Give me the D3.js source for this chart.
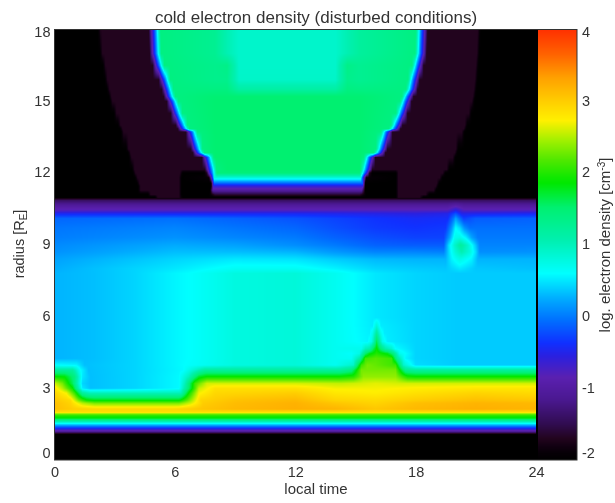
<!DOCTYPE html>
<html>
<head>
<meta charset="utf-8">
<script src="https://cdn.jsdelivr.net/npm/d3@7"></script>
<style>
  html, body { margin: 0; background: #fff; }
  #wrap { position: relative; width: 615px; height: 503px; overflow: hidden; }
  canvas, svg { position: absolute; left: 0; top: 0; }
  text { font-family: "Liberation Sans", sans-serif; fill: #333; }
</style>
</head>
<body>
<div id="wrap"></div>
<script>
const timeTicks = [0, 6, 12, 18, 24]
const radiusTicks = [0, 3, 6, 9, 12, 15, 18]
const densityTicks = [-2, -1, 0, 1, 2, 3, 4]

// colour bar, log density -> colour
const barValues = [-2, -1.9, -1.82, -1.7, -1.5, -1.16, -0.85, -0.55, -0.37, -0.05, 0.23, 0.6, 1.06, 1.52, 1.86, 1.94, 2.18, 2.45, 2.73, 2.98, 3.33, 3.67, 4]
const barColours = ['#000000', '#060006', '#100010', '#22041e', '#300c50', '#4a1890', '#5a20b0', '#2a20e0', '#1030ff', '#0070ff', '#00a8ff', '#00ffff', '#00f0b0', '#00f070', '#00e800', '#10e800', '#50e800', '#a0f000', '#fff000', '#ffd000', '#ffa000', '#ff6000', '#ff3000']

// radius rows below the magnetopause, each profile is local time, log density pairs
const lowerRadii = [0, 1.06, 1.12, 1.2, 1.33, 1.46, 1.6, 1.74, 1.88, 1.93, 1.99, 2.13, 2.38, 2.5, 2.8, 3, 3.2, 3.48, 3.76, 3.97, 4.25, 4.45, 4.65, 4.95, 5.3, 5.6, 5.95, 7.8, 8, 8.4, 8.7, 8.98, 9.3, 9.7, 10.1, 10.3, 10.45, 10.65, 10.85, 10.95]
const lowerProfiles = [
  [0, -2, 24, -2],
  [0, -2, 24, -2],
  [0, -1.6, 24, -1.6],
  [0, -1, 24, -1],
  [0, -0.4, 24, -0.4],
  [0, 0.25, 24, 0.25],
  [0, 1, 24, 1],
  [0, 1.75, 24, 1.75],
  [0, 2.1, 24, 2.1],
  [0, 2.35, 24, 2.35],
  [0, 2.85, 24, 2.85],
  [0, 3.1, 1, 3, 2, 2.95, 6, 2.95, 7.2, 3.05, 9, 3.15, 12, 3.22, 14, 3.18, 16, 3.05, 18, 3.15, 21, 3.22, 24, 3.18],
  [0, 3.1, 0.8, 2.95, 1.4, 2.5, 2, 2.3, 6.2, 2.3, 6.8, 2.6, 7.4, 3, 9, 3.12, 12, 3.2, 14, 3.05, 16, 2.95, 18, 3.1, 21, 3.18, 24, 3.15],
  [0, 3.05, 0.8, 2.9, 1.2, 2.3, 1.6, 1.9, 2, 1.8, 6.2, 1.8, 6.7, 2.3, 7.3, 2.95, 9, 3.08, 12, 3.15, 14, 2.95, 16, 2.9, 18, 3, 21, 3.1, 24, 3.05],
  [0, 2.95, 0.6, 2.7, 1, 2.1, 1.4, 1.2, 1.8, 1, 6.3, 1, 6.7, 1.9, 7.2, 2.7, 8, 2.92, 12, 3, 14, 2.8, 16, 2.75, 18, 2.85, 21, 2.95, 24, 2.9],
  [0, 2.85, 0.4, 2.5, 0.9, 1.9, 1.4, 0.5, 1.8, 0.33, 4, 0.42, 6.2, 0.58, 6.6, 1.3, 7.2, 2.55, 8, 2.85, 12, 2.85, 14, 2.7, 16, 2.7, 18, 2.75, 21, 2.8, 24, 2.8],
  [0, 2.6, 0.4, 2.3, 0.9, 1.6, 1.4, 0.42, 1.8, 0.33, 4, 0.42, 6.2, 0.58, 6.5, 1, 7, 2.1, 7.6, 2.6, 12, 2.6, 14.3, 2.55, 15.2, 2.6, 16, 2.65, 17.3, 2.6, 18, 2.6, 24, 2.6],
  [0, 1.9, 0.5, 1.85, 1, 1.4, 1.4, 0.5, 1.8, 0.33, 4, 0.42, 6.2, 0.58, 6.7, 1, 7.2, 1.75, 7.6, 1.9, 14.2, 1.9, 14.9, 2, 15.4, 2.4, 17, 2.4, 17.6, 1.95, 18, 1.9, 24, 1.9],
  [0, 1.2, 0.9, 1.2, 1.3, 0.6, 1.7, 0.33, 4, 0.42, 6.4, 0.58, 7, 0.9, 7.5, 1.2, 14.2, 1.2, 14.8, 1.4, 15.3, 2.3, 17, 2.3, 17.5, 1.3, 18, 1.2, 24, 1.2],
  [0, 0.6, 1.1, 0.55, 1.5, 0.33, 4, 0.42, 6, 0.56, 7, 0.64, 9, 0.78, 12, 0.82, 14, 0.68, 14.9, 0.9, 15.3, 2.1, 15.6, 2.3, 17, 2.1, 17.4, 0.9, 18, 0.45, 20, 0.38, 24, 0.38],
  [0, 0.28, 2, 0.33, 4, 0.42, 6, 0.56, 7, 0.62, 9, 0.78, 12, 0.82, 14, 0.68, 14.8, 0.66, 15.2, 1.1, 15.5, 2.1, 16, 2.2, 16.8, 2.1, 17.1, 1.2, 17.5, 0.55, 18, 0.42, 20, 0.38, 24, 0.38],
  [0, 0.28, 2, 0.33, 4, 0.42, 6, 0.56, 7, 0.62, 9, 0.78, 12, 0.82, 14, 0.68, 14.8, 0.62, 15.2, 0.75, 15.5, 1.5, 15.7, 1.8, 16.06, 2, 16.6, 1.8, 16.9, 1.4, 17.2, 0.7, 18, 0.42, 20, 0.38, 24, 0.38],
  [0, 0.28, 2, 0.33, 4, 0.42, 6, 0.56, 7, 0.62, 9, 0.78, 12, 0.82, 14, 0.68, 15.3, 0.7, 15.5, 1, 15.7, 1.1, 15.9, 1.6, 16.06, 1.9, 16.25, 1.5, 16.5, 1.1, 16.8, 0.9, 17, 0.6, 18, 0.42, 20, 0.38, 24, 0.38],
  [0, 0.28, 2, 0.33, 4, 0.42, 6, 0.56, 7, 0.62, 9, 0.78, 12, 0.82, 14, 0.68, 15.6, 0.56, 15.8, 0.72, 15.9, 1, 16.06, 1.65, 16.25, 1, 16.35, 0.72, 16.6, 0.52, 18, 0.42, 20, 0.38, 24, 0.38],
  [0, 0.28, 2, 0.33, 4, 0.42, 6, 0.56, 7, 0.62, 9, 0.78, 12, 0.82, 14, 0.68, 15.7, 0.54, 15.85, 0.7, 16.06, 1.2, 16.27, 0.7, 16.45, 0.52, 18, 0.42, 20, 0.38, 24, 0.38],
  [0, 0.28, 2, 0.33, 4, 0.42, 6, 0.56, 7, 0.62, 9, 0.78, 12, 0.82, 14, 0.68, 15.85, 0.52, 16.06, 0.85, 16.27, 0.52, 18, 0.42, 20, 0.38, 24, 0.38],
  [0, 0.28, 2, 0.33, 4, 0.42, 6, 0.56, 7, 0.62, 9, 0.78, 12, 0.82, 14, 0.68, 16, 0.5, 18, 0.42, 20, 0.38, 24, 0.38],
  [0, 0.28, 2, 0.33, 4, 0.42, 6, 0.56, 7, 0.62, 9, 0.78, 12, 0.82, 14, 0.68, 16, 0.5, 18, 0.42, 20, 0.38, 24, 0.38],
  [0, 0.25, 6, 0.5, 9, 0.66, 12, 0.66, 14, 0.55, 16, 0.42, 18, 0.38, 19.5, 0.36, 20.2, 0.5, 21, 0.36, 24, 0.33],
  [0, 0.2, 6, 0.42, 9, 0.5, 12, 0.48, 14, 0.38, 16, 0.3, 18, 0.28, 19.5, 0.28, 19.8, 0.55, 20.2, 0.75, 20.8, 0.55, 21.1, 0.28, 24, 0.28],
  [0, 0.12, 6, 0.32, 9, 0.32, 12, 0.28, 14, 0.15, 16, 0.05, 18, 0.05, 19.4, 0.03, 19.7, 0.5, 20, 0.85, 20.3, 1.05, 20.7, 0.8, 21, 0.45, 21.2, 0.1, 24, 0.12],
  [0, 0.08, 6, 0.24, 9, 0.2, 12, 0.1, 14, 0, 16, -0.12, 18, -0.15, 19.4, -0.15, 19.65, 0.45, 19.95, 0.9, 20.25, 1.2, 20.6, 0.9, 21, 0.35, 21.2, 0.05, 24, 0.05],
  [0, 0.02, 6, 0.12, 12, 0, 14, -0.12, 16, -0.22, 18, -0.28, 19.4, -0.28, 19.7, 0.2, 19.95, 0.7, 20.2, 0.75, 20.5, 0.55, 20.8, 0.2, 21.1, 0, 24, 0],
  [0, -0.02, 6, 0.05, 12, -0.1, 14, -0.22, 16, -0.32, 18, -0.36, 19.5, -0.33, 19.8, 0.15, 20, 0.6, 20.2, 0.45, 20.45, 0.1, 20.7, -0.05, 24, -0.05],
  [0, -0.1, 6, -0.05, 12, -0.2, 16, -0.36, 18, -0.42, 19.6, -0.4, 19.9, 0, 20, 0.2, 20.15, 0, 20.4, -0.3, 21, -0.15, 24, -0.12],
  [0, -0.45, 12, -0.45, 18, -0.55, 19.6, -0.5, 20, -0.2, 20.3, -0.5, 24, -0.45],
  [0, -0.8, 19.6, -0.8, 20, -0.55, 20.4, -0.8, 24, -0.8],
  [0, -1.05, 19.6, -1.05, 20, -0.95, 20.4, -1.05, 24, -1.05],
  [0, -1.4, 24, -1.4],
  [0, -1.85, 24, -1.85]
]

// rows around the bottom of the dayside region, with the dark pockets
const pocketRadii = [10.98, 11.1, 11.28, 11.45, 11.57, 11.8, 12]
const pocketProfiles = [
  [0, -2, 5, -2, 5.15, -1.7, 6.2, -1.7, 6.4, -2, 17, -2, 17.15, -1.7, 18.2, -1.7, 18.4, -2, 24, -2],
  [0, -2, 4.65, -2, 4.8, -1.7, 6.2, -1.7, 6.35, -2, 7.7, -2, 8, -1.6, 15.2, -1.6, 15.55, -2, 17, -2, 17.15, -1.7, 18.5, -1.7, 18.7, -2, 24, -2],
  [0, -2, 4.15, -2, 4.3, -1.7, 6.2, -1.7, 6.35, -2, 7.75, -2, 7.9, -1, 15.3, -1, 15.5, -2, 17, -2, 17.15, -1.7, 18.9, -1.7, 19.05, -2, 24, -2],
  [0, -2, 4.15, -2, 4.3, -1.7, 6.2, -1.7, 6.35, -2, 7.8, -2, 7.93, -0.6, 15.35, -0.6, 15.5, -2, 17, -2, 17.15, -1.7, 19, -1.7, 19.15, -2, 24, -2],
  [0, -2, 4.1, -2, 4.25, -1.7, 6.2, -1.7, 6.35, -2, 7.8, -2, 7.95, -0.1, 15.35, -0.1, 15.5, -2, 17, -2, 17.15, -1.7, 19.05, -1.7, 19.2, -2, 24, -2],
  [0, -2, 4, -2, 4.15, -1.7, 6.2, -1.7, 6.35, -2, 7.7, -1.9, 7.85, -0.6, 7.97, 0.8, 15.25, 0.8, 15.4, -0.6, 15.55, -1.9, 17, -2, 17.15, -1.7, 19.2, -1.7, 19.35, -2, 24, -2],
  [0, -2, 3.9, -2, 4.05, -1.7, 6.25, -1.7, 6.4, -2, 7.45, -2, 7.6, -1.7, 7.72, -0.7, 7.84, -0.1, 7.96, 0.7, 8.1, 1.45, 15.2, 1.45, 15.35, 0.7, 15.47, -0.1, 15.59, -0.7, 15.7, -1.7, 15.85, -2, 17, -2, 17.15, -1.7, 19.35, -1.7, 19.5, -2, 24, -2]
]

// dayside region above that, read as edge positions (local time) per radius
const upperRadii = [12.15, 12.65, 12.85, 13, 13.72, 13.85, 14, 14.5, 15, 15.2, 15.5, 15.9, 16.5, 17, 18.1]
const leftEdge = [7.8, 7.65, 7.2, 7.1, 6.85, 6.45, 6.35, 6.1, 5.9, 5.75, 5.65, 5.5, 5.2, 5.05, 5]
const rightEdge = [15.55, 15.7, 16.2, 16.3, 16.55, 16.95, 17.05, 17.3, 17.5, 17.6, 17.8, 17.9, 18.1, 18.25, 18.3]
const leftHalo = [4, 3.85, 3.8, 3.7, 3.45, 3.4, 3.3, 3.1, 2.9, 2.85, 2.75, 2.65, 2.55, 2.4, 2.3]
const rightHalo = [19.55, 19.85, 19.95, 20, 20.3, 20.4, 20.45, 20.65, 20.8, 20.85, 20.9, 20.95, 21, 21.05, 21.1]
const edgeOffsets = [-0.3, -0.15, 0, 0.14, 0.28]
const edgeValues = [-1.7, -0.8, -0.1, 0.7, 1.4]
const insideTimes = [5, 8, 8.6, 9.2, 14, 14.6, 15.2, 18.5]
const insideValues = [
  [1.5, 1.52, 1.52, 1.52, 1.52, 1.52, 1.52, 1.5],
  [1.5, 1.52, 1.52, 1.52, 1.52, 1.52, 1.52, 1.5],
  [1.5, 1.52, 1.52, 1.52, 1.52, 1.52, 1.52, 1.5],
  [1.5, 1.52, 1.52, 1.52, 1.52, 1.52, 1.52, 1.5],
  [1.5, 1.52, 1.52, 1.52, 1.52, 1.52, 1.52, 1.5],
  [1.5, 1.52, 1.52, 1.52, 1.52, 1.52, 1.52, 1.5],
  [1.5, 1.52, 1.52, 1.52, 1.52, 1.52, 1.52, 1.5],
  [1.5, 1.52, 1.52, 1.52, 1.52, 1.52, 1.52, 1.5],
  [1.5, 1.52, 1.52, 1.52, 1.52, 1.52, 1.52, 1.5],
  [1.45, 1.5, 1.5, 1.5, 1.5, 1.5, 1.5, 1.45],
  [1.38, 1.4, 1.4, 1.15, 1.15, 1.4, 1.38, 1.35],
  [1.32, 1.32, 1.32, 0.92, 0.92, 1.32, 1.28, 1.28],
  [1.32, 1.32, 1.35, 0.9, 0.9, 1.35, 1.28, 1.28],
  [1.32, 1.28, 1.05, 0.9, 0.9, 1.05, 1.2, 1.28],
  [1.32, 1.28, 1.05, 0.9, 0.9, 1.05, 1.2, 1.28]
]

// build the upper profiles from the edge arrays
const upperProfiles = upperRadii.map((r, i) => {
  const p = [0, -2, leftHalo[i] - 0.15, -2, leftHalo[i], -1.7]
  edgeOffsets.forEach((o, j) => p.push(leftEdge[i] + o, edgeValues[j]))
  insideTimes.forEach((t, j) => {
    if (t > leftEdge[i] + 0.33 && t < rightEdge[i] - 0.33) p.push(t, insideValues[i][j])
  })
  edgeOffsets.slice().reverse().forEach((o, j) => p.push(rightEdge[i] - o, edgeValues[4 - j]))
  p.push(rightHalo[i], -1.7, rightHalo[i] + 0.15, -2, 24, -2)
  return p
})

const radii = lowerRadii.concat(pocketRadii, upperRadii)
const profiles = lowerProfiles.concat(pocketProfiles, upperProfiles)

const width = 615
const height = 503
const plotLeft = 54.5
const plotRight = 536
const barLeft = 538
const barRight = 577
const plotTop = 29.5
const plotBottom = 460

const xScale = d3.scaleLinear().domain([0, 24]).range([plotLeft, plotRight])
const yScale = d3.scaleLinear().domain([0, 18]).range([plotBottom, plotTop])
const barScale = d3.scaleLinear().domain([-2, 4]).range([plotBottom, plotTop])
const colourScale = d3.scaleLinear().domain(barValues).range(barColours).interpolate(d3.interpolateRgb).clamp(true)

const wrap = d3.select('#wrap')

const canvas = wrap.append('canvas').attr('width', width).attr('height', height)
const ctx = canvas.node().getContext('2d')
ctx.fillStyle = '#000'
ctx.fillRect(plotLeft, plotTop, barRight - plotLeft, plotBottom - plotTop)

// one scale per radius row, then blend rows in y (interpolated shading like the original)
const rowScales = profiles.map((p) => {
  const ts = p.filter((d, i) => i % 2 === 0)
  const vs = p.filter((d, i) => i % 2 === 1)
  return d3.scaleLinear().domain(ts).range(vs).clamp(true)
})

const x0 = Math.floor(plotLeft)
const x1 = Math.ceil(plotRight)
const y0 = Math.floor(plotTop)
const y1 = Math.ceil(plotBottom)
const image = ctx.createImageData(x1 - x0, y1 - y0)
const rowCache = rowScales.map((s) => d3.range(x0, x1).map((px) => s(xScale.invert(px + 0.5))))
for (let py = y0; py < y1; py++) {
  const r = yScale.invert(py + 0.5)
  const hi = Math.min(Math.max(d3.bisectRight(radii, r), 1), radii.length - 1)
  const f = Math.min(Math.max((r - radii[hi - 1]) / (radii[hi] - radii[hi - 1]), 0), 1)
  for (let px = x0; px < x1; px++) {
    const v = rowCache[hi - 1][px - x0] * (1 - f) + rowCache[hi][px - x0] * f
    const c = d3.rgb(colourScale(v))
    const k = ((py - y0) * (x1 - x0) + (px - x0)) * 4
    image.data[k] = c.r
    image.data[k + 1] = c.g
    image.data[k + 2] = c.b
    image.data[k + 3] = 255
  }
}
ctx.putImageData(image, x0, y0)

// colour bar, one pixel row at a time so nothing bleeds through from the black under it
for (let py = y0; py < y1; py++) {
  ctx.fillStyle = colourScale(barScale.invert(py + 0.5))
  ctx.fillRect(barLeft, py, barRight - barLeft, 1)
}

const svg = wrap.append('svg').attr('width', width).attr('height', height)

// frame
svg.append('rect')
  .attr('x', plotLeft)
  .attr('y', plotTop)
  .attr('width', barRight - plotLeft)
  .attr('height', plotBottom - plotTop)
  .attr('fill', 'none')
  .attr('stroke', '#333')
  .attr('stroke-width', 1)

function cleanAxis(g) {
  g.select('.domain').remove()
  g.selectAll('line').remove()
  g.selectAll('text').attr('font-size', 14.5).style('fill', '#333').style('font-family', '"Liberation Sans", sans-serif')
}

svg.append('g')
  .attr('transform', `translate(0, ${plotBottom})`)
  .call(d3.axisBottom(xScale).tickValues(timeTicks).tickSize(0).tickPadding(7).tickFormat(String))
  .call(cleanAxis)

const yAxis = svg.append('g')
  .attr('transform', `translate(${plotLeft}, 0)`)
  .call(d3.axisLeft(yScale).tickValues(radiusTicks).tickSize(0).tickPadding(4).tickFormat(String))
  .call(cleanAxis)

const barAxis = svg.append('g')
  .attr('transform', `translate(${barRight}, 0)`)
  .call(d3.axisRight(barScale).tickValues(densityTicks).tickSize(0).tickPadding(5).tickFormat(String))
  .call(cleanAxis)

// end labels sit inside the axis range
const shiftEnds = (g, low, high) => {
  g.selectAll('.tick text').attr('dy', null).attr('dominant-baseline', 'middle')
    .attr('y', (d) => (d === low ? -6 : d === high ? 3 : 0))
}
shiftEnds(yAxis, 0, 18)
shiftEnds(barAxis, -2, 4)

svg.append('text')
  .attr('x', 316)
  .attr('y', 23)
  .attr('text-anchor', 'middle')
  .attr('font-size', 17)
  .text('cold electron density (disturbed conditions)')

svg.append('text')
  .attr('x', 316)
  .attr('y', 494)
  .attr('text-anchor', 'middle')
  .attr('font-size', 15)
  .text('local time')

const yLabel = svg.append('text')
  .attr('transform', 'translate(24, 244) rotate(-90)')
  .attr('text-anchor', 'middle')
  .attr('font-size', 14.5)
yLabel.append('tspan').text('radius [R')
yLabel.append('tspan').attr('font-size', 10).attr('dy', 3).text('E')
yLabel.append('tspan').attr('dy', -3).text(']')

const barLabel = svg.append('text')
  .attr('transform', 'translate(610, 245) rotate(-90)')
  .attr('text-anchor', 'middle')
  .attr('font-size', 15)
barLabel.append('tspan').text('log. electron density [cm')
barLabel.append('tspan').attr('font-size', 10).attr('dy', -5).text('-3')
barLabel.append('tspan').attr('dy', 5).text(']')
</script>
</body>
</html>
